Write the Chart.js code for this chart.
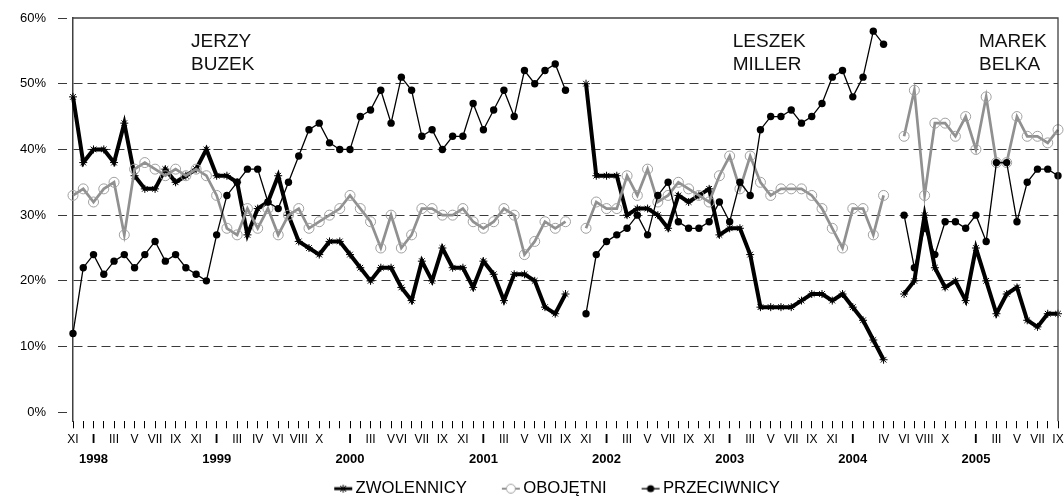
<!DOCTYPE html>
<html>
<head>
<meta charset="utf-8">
<script src="https://cdn.jsdelivr.net/npm/chart.js@4"></script>
<style>
  html, body { margin: 0; padding: 0; background: #fff; }
  #wrap { width: 1064px; height: 499px; }
</style>
</head>
<body>
<div id="wrap"><canvas id="myChart"></canvas></div>
<script>
// month ticks, January carries the year on a second line
var labels = [
    'XI', '', ['I', '1998'], '', 'III', '', 'V', '', 'VII', '', 'IX', '', 'XI', '',
    ['I', '1999'], '', 'III', '', 'IV', '', 'VI', '', 'VIII', '', 'X', '', '',
    ['I', '2000'], '', 'III', '', 'V', 'VI', '', 'VII', '', 'IX', '', 'XI', '',
    ['I', '2001'], '', 'III', '', 'V', '', 'VII', '', 'IX', '', 'XI', '',
    ['I', '2002'], '', 'III', '', 'V', '', 'VII', '', 'IX', '', 'XI', '',
    ['I', '2003'], '', 'III', '', 'V', '', 'VII', '', 'IX', '', 'XI', '',
    ['I', '2004'], '', '', 'IV', '', 'VI', '', 'VIII', '', 'X', '', '',
    ['I', '2005'], '', 'III', '', 'V', '', 'VII', '', 'IX'
];

var zwolennicy = [
    48, 38, 40, 40, 38, 44, 36, 34, 34, 37, 35, 36, 37, 40,
    36, 36, 35, 27, 31, 32, 36, 30, 26, 25, 24, 26, 26,
    24, 22, 20, 22, 22, 19, 17, 23, 20, 25, 22, 22, 19,
    23, 21, 17, 21, 21, 20, 16, 15, 18, null, 50, 36,
    36, 36, 30, 31, 31, 30, 28, 33, 32, 33, 34, 27,
    28, 28, 24, 16, 16, 16, 16, 17, 18, 18, 17, 18,
    16, 14, 11, 8, null, 18, 20, 30, 22, 19, 20, 17,
    25, 20, 15, 18, 19, 14, 13, 15, 15
];

var obojetni = [
    33, 34, 32, 34, 35, 27, 37, 38, 37, 36, 37, 36, 37, 36,
    33, 28, 27, 31, 28, 31, 27, 30, 31, 28, 29, 30, 31,
    33, 31, 29, 25, 30, 25, 27, 31, 31, 30, 30, 31, 29,
    28, 29, 31, 30, 24, 26, 29, 28, 29, null, 28, 32,
    31, 31, 36, 33, 37, 32, 33, 35, 34, 33, 32, 36,
    39, 34, 39, 35, 33, 34, 34, 34, 33, 31, 28, 25,
    31, 31, 27, 33, null, 42, 49, 33, 44, 44, 42, 45,
    40, 48, 38, 38, 45, 42, 42, 41, 43
];

var przeciwnicy = [
    12, 22, 24, 21, 23, 24, 22, 24, 26, 23, 24, 22, 21, 20,
    27, 33, 35, 37, 37, 32, 31, 35, 39, 43, 44, 41, 40,
    40, 45, 46, 49, 44, 51, 49, 42, 43, 40, 42, 42, 47,
    43, 46, 49, 45, 52, 50, 52, 53, 49, null, 15, 24,
    26, 27, 28, 30, 27, 33, 35, 29, 28, 28, 29, 32,
    29, 35, 33, 43, 45, 45, 46, 44, 45, 47, 51, 52,
    48, 51, 58, 56, null, 30, 22, 28, 24, 29, 29, 28,
    30, 26, 38, 38, 29, 35, 37, 37, 36
];

var yTicks = [0, 10, 20, 30, 40, 50, 60];

// prime ministers, placed by category index and value
var premiers = [
    {lines: ['JERZY', 'BUZEK'], at: 11.5},
    {lines: ['LESZEK', 'MILLER'], at: 64.3},
    {lines: ['MAREK', 'BELKA'], at: 88.3}
];

var FONT = "'Liberation Sans', Arial, sans-serif";

// legend icons: a short line with the series marker, like the spreadsheet legend
function makeIcon(kind) {
    var c = document.createElement('canvas');
    c.width = 56;
    c.height = 14;
    var g = c.getContext('2d');
    var y = 7, x0 = 37, x1 = 55, xm = 46;
    g.beginPath();
    g.moveTo(x0, y);
    g.lineTo(x1, y);
    if (kind === 'zw') {
        g.strokeStyle = '#000';
        g.lineWidth = 3;
        g.stroke();
        g.lineWidth = 1;
        g.beginPath();
        g.moveTo(xm - 4, y); g.lineTo(xm + 4, y);
        g.moveTo(xm, y - 4); g.lineTo(xm, y + 4);
        g.moveTo(xm - 3, y - 3); g.lineTo(xm + 3, y + 3);
        g.moveTo(xm - 3, y + 3); g.lineTo(xm + 3, y - 3);
        g.stroke();
    } else if (kind === 'ob') {
        g.strokeStyle = '#909090';
        g.lineWidth = 2;
        g.stroke();
        g.beginPath();
        g.arc(xm, y, 4.5, 0, Math.PI * 2);
        g.fillStyle = '#fff';
        g.fill();
        g.strokeStyle = '#a0a0a0';
        g.lineWidth = 1;
        g.stroke();
    } else {
        g.strokeStyle = '#000';
        g.lineWidth = 1.3;
        g.stroke();
        g.beginPath();
        g.arc(xm, y, 3.6, 0, Math.PI * 2);
        g.fillStyle = '#000';
        g.fill();
    }
    return c;
}
var legendIcons = [makeIcon('zw'), makeIcon('ob'), makeIcon('pr')];

var frame = {
    id: 'frame',
    afterDraw: function (chart) {
        var a = chart.chartArea, ctx = chart.ctx;
        ctx.save();
        ctx.strokeStyle = '#404040';
        ctx.lineWidth = 1.3;
        ctx.beginPath();
        ctx.moveTo(a.left, a.top);
        ctx.lineTo(a.right, a.top);
        ctx.lineTo(a.right, a.bottom);
        ctx.stroke();

        var xs = chart.scales.x, ys = chart.scales.y;
        ctx.fillStyle = '#111';
        ctx.font = '19px ' + FONT;
        ctx.textAlign = 'left';
        ctx.textBaseline = 'middle';
        premiers.forEach(function (p) {
            var px = xs.left + (p.at / (labels.length - 1)) * (xs.right - xs.left);
            var py = ys.getPixelForValue(56.4);
            ctx.fillText(p.lines[0], px, py);
            ctx.fillText(p.lines[1], px, py + 23.3);
        });
        ctx.restore();
    }
};

var ctx = document.getElementById('myChart');
var chart = new Chart(ctx, {
    type: 'line',
    data: {
        labels: labels,
        datasets: [
            {
                label: 'ZWOLENNICY',
                data: zwolennicy,
                borderColor: '#000',
                borderWidth: 4,
                pointStyle: 'star',
                pointRadius: 4,
                pointBorderColor: '#000',
                pointBorderWidth: 1,
                pointBackgroundColor: '#000',
                order: 3
            },
            {
                label: 'OBOJĘTNI',
                data: obojetni,
                borderColor: '#909090',
                borderWidth: 2.7,
                pointStyle: 'circle',
                pointRadius: 5,
                pointBorderColor: '#a0a0a0',
                pointBorderWidth: 1,
                pointBackgroundColor: 'rgba(255,255,255,0)',
                order: 2
            },
            {
                label: 'PRZECIWNICY',
                data: przeciwnicy,
                borderColor: '#000',
                borderWidth: 1.3,
                pointStyle: 'circle',
                pointRadius: 3.7,
                pointBorderColor: '#000',
                pointBorderWidth: 0,
                pointBackgroundColor: '#000',
                order: 1
            }
        ]
    },
    options: {
        responsive: true,
        maintainAspectRatio: false,
        animation: false,
        devicePixelRatio: 1,
        layout: {padding: {top: 18, right: 1, left: 20, bottom: -8}},
        elements: {line: {tension: 0}},
        scales: {
            x: {
                type: 'category',
                offset: false,
                border: {display: false},
                grid: {
                    drawOnChartArea: false,
                    drawTicks: true,
                    tickLength: 7,
                    tickColor: '#000',
                    tickWidth: 1
                },
                ticks: {
                    autoSkip: false,
                    maxRotation: 0,
                    minRotation: 0,
                    padding: 1,
                    color: '#000',
                    font: function (c) {
                        var l = labels[c.index];
                        if (Array.isArray(l)) {
                            return {family: FONT, size: 13, weight: 'bold', lineHeight: '20px'};
                        }
                        return {family: FONT, size: 12, weight: 'normal', lineHeight: '20px'};
                    }
                },
                afterFit: function (s) {
                    s.height = 55;
                    s.paddingLeft = 0;
                    s.paddingRight = 0;
                }
            },
            y: {
                min: -1.37,
                max: 60,
                border: {display: true, color: '#404040', width: 1.5, dash: [9, 5]},
                grid: {
                    color: function (c) {
                        return (c.tick && (c.tick.value === 0 || c.tick.value === 60)) ? 'rgba(0,0,0,0)' : '#3a3a3a';
                    },
                    lineWidth: 1,
                    tickLength: 15,
                    tickColor: '#3a3a3a',
                    tickBorderDash: [9, 5]
                },
                afterBuildTicks: function (s) {
                    s.ticks = yTicks.map(function (v) { return {value: v}; });
                },
                afterFit: function (s) {
                    s.width = 53;
                    s.paddingTop = 0;
                    s.paddingBottom = 0;
                },
                ticks: {
                    padding: 12,
                    color: '#000',
                    font: {family: FONT, size: 13},
                    callback: function (v) { return v + '%'; }
                }
            }
        },
        plugins: {
            tooltip: {enabled: false},
            legend: {
                display: true,
                position: 'bottom',
                labels: {
                    usePointStyle: true,
                    pointStyleWidth: 44,
                    padding: 4,
                    color: '#000',
                    font: {family: FONT, size: 16.7},
                    sort: function (a, b) { return a.datasetIndex - b.datasetIndex; },
                    generateLabels: function (chart) {
                        var items = Chart.defaults.plugins.legend.labels.generateLabels(chart);
                        items.forEach(function (it) {
                            it.pointStyle = legendIcons[it.datasetIndex];
                        });
                        return items;
                    }
                }
            }
        }
    },
    plugins: [frame]
});
</script>
</body>
</html>
